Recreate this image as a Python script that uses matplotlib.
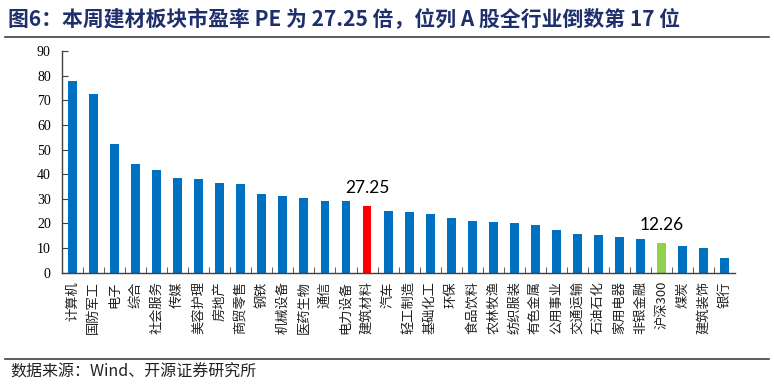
import matplotlib
matplotlib.use("Agg")
import matplotlib.pyplot as plt
from matplotlib.lines import Line2D

plt.rcParams["font.family"] = ["Noto Sans CJK SC", "DejaVu Sans"]

# PE by industry, sorted high -> low
industries = ["计算机", "国防军工", "电子", "综合", "社会服务", "传媒", "美容护理", "房地产",
              "商贸零售", "钢铁", "机械设备", "医药生物", "通信", "电力设备", "建筑材料", "汽车",
              "轻工制造", "基础化工", "环保", "食品饮料", "农林牧渔", "纺织服装", "有色金属",
              "公用事业", "交通运输", "石油石化", "家用电器", "非银金融", "沪深300", "煤炭",
              "建筑装饰", "银行"]
pe = [77.8, 72.4, 52.2, 44.0, 41.6, 38.6, 38.1, 36.5,
      35.8, 32.1, 31.0, 30.5, 29.2, 29.0, 27.25, 25.2,
      24.5, 23.9, 22.3, 20.9, 20.6, 20.2, 19.2,
      17.4, 15.7, 15.3, 14.5, 13.8, 12.26, 10.8,
      9.9, 6.0]
highlight = {"建筑材料": "#FF0000", "沪深300": "#92D050"}
labelled = ["建筑材料", "沪深300"]
yticks = list(range(0, 100, 10))

fig = plt.figure(figsize=(7.74, 3.86), dpi=100)
ax = fig.add_axes([0.080, 0.2935, 0.870, 0.5745])

x = list(range(len(industries)))
colors = [highlight.get(n, "#0070C0") for n in industries]
ax.bar(x, pe, width=0.42, color=colors, zorder=2)

for name in labelled:
    i = industries.index(name)
    ax.annotate(f"{pe[i]:.2f}", (i, pe[i]), xytext=(0, 7), textcoords="offset points",
                ha="center", va="bottom", fontsize=12.5, family=["Lato", "DejaVu Sans"])

ax.set_xlim(-0.5, len(industries) - 0.5)
ax.set_ylim(0, 90)
ax.set_yticks(yticks)
ax.set_yticklabels([str(v) for v in yticks], family=["Liberation Serif"], fontsize=10)
ax.set_xticks(x)
ax.set_xticklabels(industries, rotation=90, fontsize=9.5, va="top", color="#222222")
ax.set_xticks([i + 0.5 for i in x[:-1]] + [-0.5], minor=True)
ax.tick_params(axis="x", which="major", length=0, pad=6)
ax.tick_params(axis="x", which="minor", direction="in", length=4, color="#404040")
ax.tick_params(axis="y", direction="in", length=4, color="#404040", pad=8)
for s in ["top", "right"]:
    ax.spines[s].set_visible(False)
for s in ["left", "bottom"]:
    ax.spines[s].set_color("#404040")
    ax.spines[s].set_linewidth(1.0)

fig.text(0.010, 0.953, "图6：本周建材板块市盈率 PE 为 27.25 倍，位列 A 股全行业倒数第 17 位",
         fontsize=15, fontweight="bold", color="#1F2F6B", va="center", ha="left")
fig.add_artist(Line2D([0.006, 0.994], [0.905, 0.905], color="#404040", lw=1.2))
fig.add_artist(Line2D([0.006, 0.994], [0.071, 0.071], color="#404040", lw=1.2))
fig.text(0.014, 0.035, "数据来源：Wind、开源证券研究所", fontsize=11.5, va="center", ha="left",
         color="#222222")

fig.savefig("out.png", dpi=100)
